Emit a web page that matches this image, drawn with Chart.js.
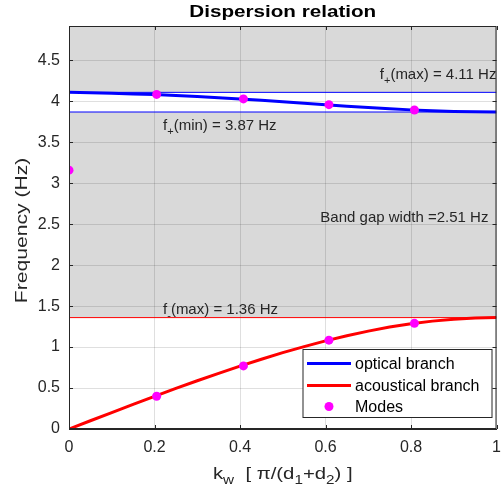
<!DOCTYPE html>
<html><head><meta charset="utf-8">
<script src="https://cdn.jsdelivr.net/npm/chart.js@4.4.0/dist/chart.umd.min.js"></script>
<style>html,body{margin:0;padding:0;background:#fff}#wrap{width:501px;height:495px;position:relative}</style>
</head><body><div id="wrap"><canvas id="c" width="501" height="495"></canvas></div>
<script>
// ---------- data ----------
const kGrid = [0,0.05,0.1,0.15,0.2,0.25,0.3,0.35,0.4,0.45,0.5,0.55,0.6,0.65,0.7,0.75,0.8,0.85,0.9,0.95,1];
const opticalBranch = [4.11,4.105,4.098,4.091,4.083,4.072,4.060,4.045,4.030,4.013,3.995,3.977,3.958,3.941,3.924,3.909,3.896,3.885,3.877,3.872,3.87];
const acousticalBranch = [0,0.101,0.201,0.300,0.398,0.495,0.589,0.680,0.768,0.852,0.932,1.006,1.076,1.139,1.195,1.244,1.285,1.317,1.341,1.355,1.36];
const modeK = [0,0.205,0.408,0.608,0.808,0.205,0.408,0.608,0.808];
const modeF = [3.16,4.085,4.03,3.96,3.894,0.40,0.77,1.085,1.29];
const fPlusMax = 4.11, fPlusMin = 3.87, fMinusMax = 1.36, bandGap = 2.51;
const xTicks = [0,0.2,0.4,0.6,0.8,1];
const yTicks = [0,0.5,1,1.5,2,2.5,3,3.5,4,4.5];
const xRange = [0,1], yRange = [0,4.92];
const seriesLabels = ['optical branch','acoustical branch','Modes'];

// ---------- styling ----------
const FONT = '"Liberation Sans", Arial, Helvetica, sans-serif';
const AX = '#262626';

function drawRich(ctx, segs, x, y, size, align, color, bold, sx, rot) {
  sx = sx || 1;
  const sub = Math.round(size*0.72);
  const f = (s)=> (bold?'bold ':'') + (s.sub?sub:size) + 'px ' + FONT;
  let w = 0;
  segs.forEach(s=>{ctx.font=f(s); s.w=ctx.measureText(s.t).width; w+=s.w;});
  ctx.save();
  ctx.translate(x,y);
  if (rot) ctx.rotate(rot);
  ctx.scale(sx,1);
  let cx = align==='center' ? -w/2 : 0;
  ctx.fillStyle=color; ctx.textAlign='left'; ctx.textBaseline='alphabetic';
  segs.forEach(s=>{ctx.font=f(s); ctx.fillText(s.t,cx,(s.sub?size*0.32:0)); cx+=s.w;});
  ctx.restore();
}

const bgPlugin = {
  id:'bg',
  beforeDraw(chart){
    const {ctx, chartArea:a, scales:{x,y}} = chart;
    ctx.save();
    ctx.fillStyle='#d9d9d9';
    ctx.fillRect(a.left,a.top,a.right-a.left,a.bottom-a.top);
    ctx.fillStyle='#ffffff';
    const y1=y.getPixelForValue(fPlusMax), y2=y.getPixelForValue(fPlusMin);
    ctx.fillRect(a.left,y1,a.right-a.left,y2-y1);
    const y3=y.getPixelForValue(fMinusMax), y4=y.getPixelForValue(0);
    ctx.fillRect(a.left,y3,a.right-a.left,y4-y3);
    ctx.restore();
  },
  afterDraw(chart){
    const {ctx, chartArea:a, scales:{x,y}} = chart;
    // box + inward ticks
    ctx.save();
    ctx.strokeStyle=AX; ctx.lineWidth=1;
    ctx.strokeRect(a.left+0.5,a.top+0.5,a.right-a.left-1,a.bottom-a.top-1);
    ctx.beginPath();
    xTicks.forEach(v=>{const px=Math.round(x.getPixelForValue(v))+0.5;
      ctx.moveTo(px,a.bottom); ctx.lineTo(px,a.bottom-4);
      ctx.moveTo(px,a.top); ctx.lineTo(px,a.top+4);});
    yTicks.forEach(v=>{const py=Math.round(y.getPixelForValue(v))+0.5;
      ctx.moveTo(a.left,py); ctx.lineTo(a.left+4,py);
      ctx.moveTo(a.right,py); ctx.lineTo(a.right-4,py);});
    ctx.stroke();
    ctx.restore();
    // title
    drawRich(ctx,[{t:'Dispersion relation'}],(a.left+a.right)/2,17,16,'center','#000',true,1.29);
    // y axis title
    drawRich(ctx,[{t:'Frequency (Hz)'}],26.5,(a.top+a.bottom)/2+3,16,'center',AX,false,1.32,-Math.PI/2);
    // x axis title
    drawRich(ctx,[{t:'k'},{t:'w',sub:true},{t:'  [ π/(d'},{t:'1',sub:true},{t:'+d'},{t:'2',sub:true},{t:') ]'}],(a.left+a.right)/2,479,16,'center',AX,false,1.27);
    // annotations
    drawRich(ctx,[{t:'f'},{t:'+',sub:true},{t:'(max) = '+fPlusMax.toFixed(2)+' Hz'}],x.getPixelForValue(0.727),y.getPixelForValue(4.27),15,'left','#262626');
    drawRich(ctx,[{t:'f'},{t:'+',sub:true},{t:'(min) = '+fPlusMin.toFixed(2)+' Hz'}],x.getPixelForValue(0.22),y.getPixelForValue(3.65),15,'left','#262626');
    drawRich(ctx,[{t:'Band gap width ='+bandGap.toFixed(2)+' Hz'}],x.getPixelForValue(0.588),y.getPixelForValue(2.53),15,'left','#262626');
    drawRich(ctx,[{t:'f'},{t:'-',sub:true},{t:'(max) = '+fMinusMax.toFixed(2)+' Hz'}],x.getPixelForValue(0.22),y.getPixelForValue(1.40),15,'left','#262626');
    // legend
    const bx=a.right-193.5, by=a.bottom-79.5, bw=189, bh=68;
    ctx.save();
    ctx.fillStyle='#fff'; ctx.fillRect(bx,by,bw,bh);
    ctx.strokeStyle=AX; ctx.lineWidth=1; ctx.strokeRect(bx,by,bw,bh);
    const rows=[by+14,by+36,by+57];
    const ds=chart.data.datasets;
    ctx.font='16px '+FONT; ctx.fillStyle='#000'; ctx.textBaseline='middle'; ctx.textAlign='left';
    for(let i=0;i<3;i++){
      const d=ds[i], ry=rows[i];
      if(i<2){
        ctx.strokeStyle=d.borderColor; ctx.lineWidth=3;
        ctx.beginPath(); ctx.moveTo(bx+4,ry); ctx.lineTo(bx+48,ry); ctx.stroke();
      } else {
        ctx.fillStyle=d.backgroundColor; ctx.beginPath(); ctx.arc(bx+26,ry,4.5,0,Math.PI*2); ctx.fill();
        ctx.fillStyle='#000';
      }
      ctx.fillText(d.label,bx+52,ry+1);
    }
    ctx.restore();
  }
};

const pts=(xs,ys)=>xs.map((v,i)=>({x:v,y:ys[i]}));
const hline=(v)=>[{x:xRange[0],y:v},{x:xRange[1],y:v}];

new Chart(document.getElementById('c'),{
  type:'line',
  data:{datasets:[
    {label:seriesLabels[0],data:pts(kGrid,opticalBranch),borderColor:'#0000ff',borderWidth:3,pointRadius:0,tension:0,order:1},
    {label:seriesLabels[1],data:pts(kGrid,acousticalBranch),borderColor:'#ff0000',borderWidth:3,pointRadius:0,tension:0,order:1},
    {label:seriesLabels[2],data:pts(modeK,modeF),showLine:false,pointRadius:4.5,pointBackgroundColor:'#ff00ff',backgroundColor:'#ff00ff',pointBorderWidth:0,borderWidth:0,order:0},
    {label:'fmax+',data:hline(fPlusMax),borderColor:'#0000ff',borderWidth:1,pointRadius:0,order:2},
    {label:'fmin+',data:hline(fPlusMin),borderColor:'#0000ff',borderWidth:1,pointRadius:0,order:2},
    {label:'fmax-',data:hline(fMinusMax),borderColor:'#ff0000',borderWidth:1,pointRadius:0,order:2}
  ]},
  options:{
    responsive:false,animation:false,
    layout:{padding:{top:26,right:4,left:0,bottom:0}},
    plugins:{legend:{display:false},title:{display:false},tooltip:{enabled:false}},
    scales:{
      x:{type:'linear',min:xRange[0],max:xRange[1],
        afterBuildTicks:(s)=>{s.ticks=xTicks.map(v=>({value:v}));},
        afterFit:(s)=>{s.height=66;s.paddingLeft=0;s.paddingRight=0;},
        grid:{color:'rgba(38,38,38,0.15)',drawTicks:false},
        border:{color:AX},
        ticks:{padding:9,color:AX,font:{family:FONT,size:16},callback:(v)=>String(v),maxRotation:0,minRotation:0}},
      y:{type:'linear',min:yRange[0],max:yRange[1],
        afterBuildTicks:(s)=>{s.ticks=yTicks.map(v=>({value:v}));},
        afterFit:(s)=>{s.width=69;s.paddingTop=0;s.paddingBottom=0;},
        grid:{color:'rgba(38,38,38,0.15)',drawTicks:false},
        border:{color:AX},
        ticks:{padding:9,color:AX,font:{family:FONT,size:16},callback:(v)=>String(v)}}
    }
  },
  plugins:[bgPlugin]
});
</script></body></html>
